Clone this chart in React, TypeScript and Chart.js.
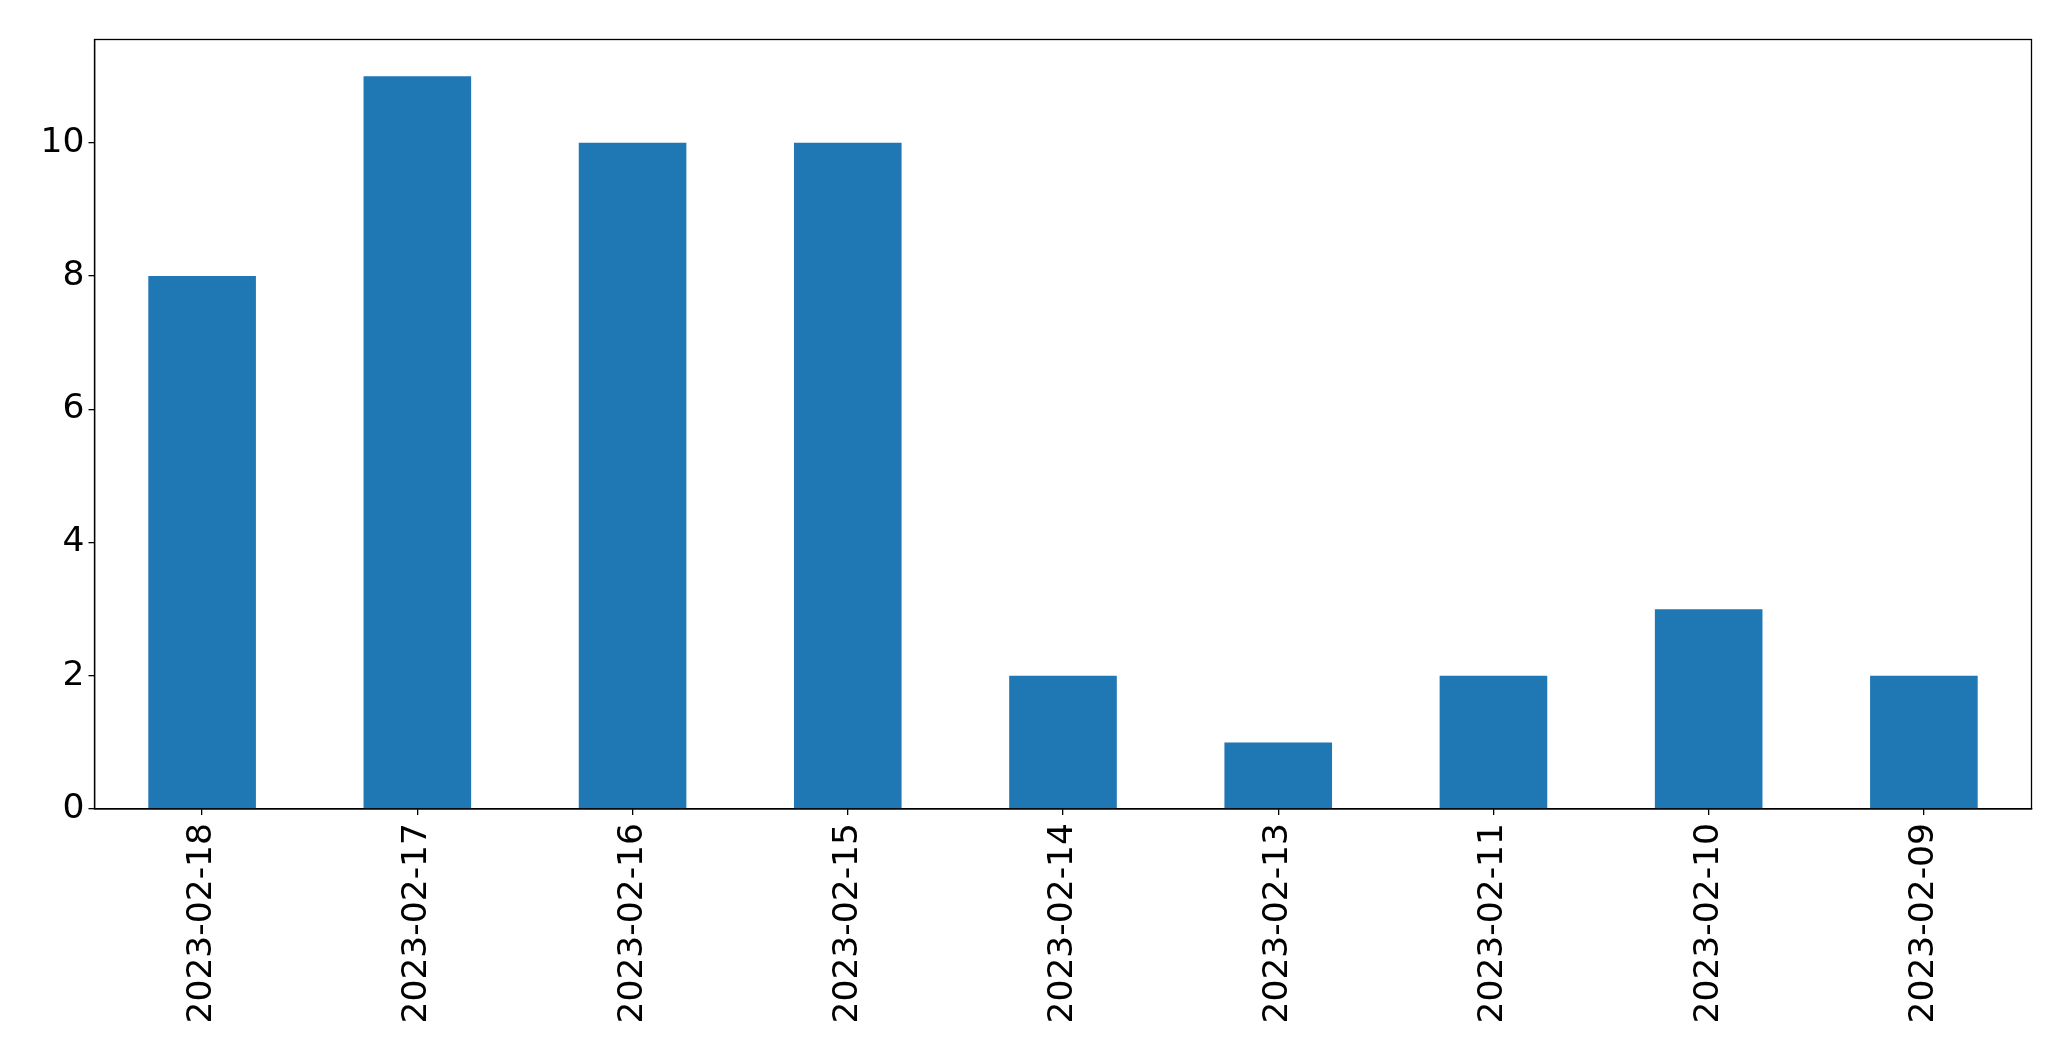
import React, { useEffect, useRef } from "react";
import { Chart, registerables } from "chart.js";

Chart.register(...registerables);

const categories = [
  "2023-02-18",
  "2023-02-17",
  "2023-02-16",
  "2023-02-15",
  "2023-02-14",
  "2023-02-13",
  "2023-02-11",
  "2023-02-10",
  "2023-02-09",
];
const values = [8, 11, 10, 10, 2, 1, 2, 3, 2];
const yTicks = [0, 2, 4, 6, 8, 10];
const yMax = 11.55;

const frame = {
  id: "frame",
  afterDraw(chart: any) {
    const { ctx, chartArea } = chart;
    ctx.save();
    ctx.strokeStyle = "#000";
    ctx.lineWidth = 1.3;
    ctx.strokeRect(chartArea.left, chartArea.top, chartArea.right - chartArea.left, chartArea.bottom - chartArea.top);
    ctx.restore();
  },
};

export default function App() {
  const ref = useRef<HTMLCanvasElement | null>(null);
  useEffect(() => {
    if (!ref.current) return;
    const font = { family: "DejaVu Sans", size: 34.5 };
    const chart = new Chart(ref.current, {
      type: "bar",
      data: {
        labels: categories,
        datasets: [
          {
            data: values,
            backgroundColor: "#1f77b4",
            barPercentage: 0.5,
            categoryPercentage: 1,
          },
        ],
      },
      options: {
        animation: false,
        responsive: false,
        layout: { padding: { left: 0, top: 39.5, right: 39.5, bottom: 0 } },
        plugins: { legend: { display: false }, tooltip: { enabled: false } },
        scales: {
          x: {
            grid: { offset: false, drawOnChartArea: false, drawTicks: true, tickLength: 6, color: "#000", lineWidth: 1.3 },
            border: { display: true, color: "#000", width: 1.3 },
            ticks: { color: "#000", font, minRotation: 90, maxRotation: 90, autoSkip: false, padding: 8 },
            afterFit(scale: any) {
              scale.height = 1061 - 809;
            },
          },
          y: {
            min: 0,
            max: yMax,
            grid: { drawOnChartArea: false, drawTicks: true, tickLength: 6, color: "#000", lineWidth: 1.3 },
            border: { display: true, color: "#000", width: 1.3 },
            ticks: { color: "#000", font, padding: 4, stepSize: 2 },
            afterBuildTicks(scale: any) {
              scale.ticks = yTicks.map((v) => ({ value: v }));
            },
            afterFit(scale: any) {
              scale.width = 94.5;
            },
          },
        },
      },
      plugins: [frame],
    });
    return () => chart.destroy();
  }, []);
  return (
    <div style={{ position: "absolute", left: 0, top: 0, width: 2071, height: 1061, background: "#fff" }}>
      <canvas ref={ref} width={2071} height={1061} />
    </div>
  );
}
